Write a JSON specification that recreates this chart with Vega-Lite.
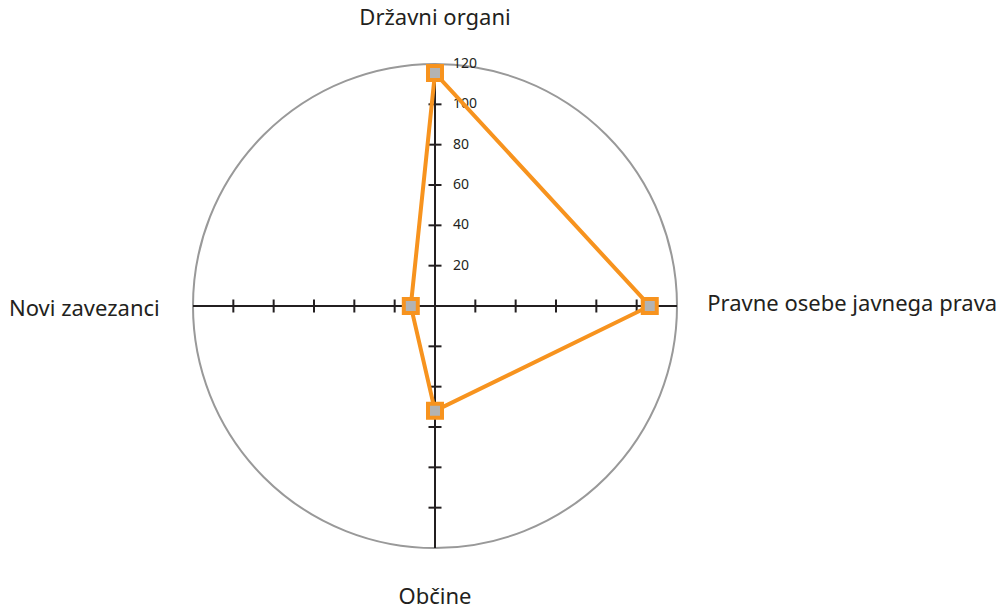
{
  "$schema": "https://vega.github.io/schema/vega-lite/v6.json",
  "width": 484,
  "height": 484,
  "autosize": {"type": "none"},
  "padding": {"left": 193, "top": 64, "right": 329, "bottom": 62},
  "background": "white",
  "config": {"view": {"stroke": null}},
  "datasets": {
    "series": [
      {"kategorija": "Državni organi", "x": 0, "y": 115.5, "red": 1},
      {"kategorija": "Pravne osebe javnega prava", "x": 106.5, "y": 0, "red": 2},
      {"kategorija": "Občine", "x": 0, "y": -52, "red": 3},
      {"kategorija": "Novi zavezanci", "x": -12, "y": 0, "red": 4},
      {"kategorija": "Državni organi", "x": 0, "y": 115.5, "red": 5}
    ],
    "axes": [
      {"x": -120, "y": 0, "x2": 120, "y2": 0},
      {"x": 0, "y": -120, "x2": 0, "y2": 120}
    ],
    "hticks": [
      {"v": -100}, {"v": -80}, {"v": -60}, {"v": -40}, {"v": -20},
      {"v": 20}, {"v": 40}, {"v": 60}, {"v": 80}, {"v": 100}
    ],
    "vticks": [
      {"v": -100}, {"v": -80}, {"v": -60}, {"v": -40}, {"v": -20},
      {"v": 20}, {"v": 40}, {"v": 60}, {"v": 80}, {"v": 100}
    ],
    "ticklabels": [
      {"v": 20, "t": "20"}, {"v": 40, "t": "40"}, {"v": 60, "t": "60"},
      {"v": 80, "t": "80"}, {"v": 100, "t": "100"}, {"v": 120, "t": "120"}
    ],
    "labels": [
      {"t": "Državni organi", "x": 0, "y": 143, "a": "center"},
      {"t": "Pravne osebe javnega prava", "x": 135, "y": 1, "a": "left"},
      {"t": "Občine", "x": 0, "y": -144.5, "a": "center"},
      {"t": "Novi zavezanci", "x": -136.5, "y": -1.5, "a": "right"}
    ],
    "center": [{"x": 0, "y": 0}]
  },
  "layer": [
    {
      "data": {"name": "center"},
      "mark": {"type": "point", "shape": "circle", "filled": false, "size": 234256, "stroke": "#999999", "strokeWidth": 2, "opacity": 1},
      "encoding": {
        "x": {"field": "x", "type": "quantitative", "scale": {"domain": [-120, 120], "nice": false, "zero": false}, "axis": null},
        "y": {"field": "y", "type": "quantitative", "scale": {"domain": [-120, 120], "nice": false, "zero": false}, "axis": null}
      }
    },
    {
      "data": {"name": "axes"},
      "mark": {"type": "rule", "stroke": "#231F20", "strokeWidth": 2},
      "encoding": {
        "x": {"field": "x", "type": "quantitative"},
        "y": {"field": "y", "type": "quantitative"},
        "x2": {"field": "x2"},
        "y2": {"field": "y2"}
      }
    },
    {
      "data": {"name": "hticks"},
      "mark": {"type": "tick", "orient": "vertical", "size": 13, "thickness": 2, "color": "#231F20", "opacity": 1},
      "encoding": {
        "x": {"field": "v", "type": "quantitative"},
        "y": {"datum": 0, "type": "quantitative"}
      }
    },
    {
      "data": {"name": "vticks"},
      "mark": {"type": "tick", "orient": "horizontal", "size": 13, "thickness": 2, "color": "#231F20", "opacity": 1},
      "encoding": {
        "y": {"field": "v", "type": "quantitative"},
        "x": {"datum": 0, "type": "quantitative"}
      }
    },
    {
      "data": {"name": "ticklabels"},
      "mark": {"type": "text", "align": "left", "baseline": "middle", "dx": 18, "font": "Noto Sans", "fontSize": 14, "color": "#231F20"},
      "encoding": {
        "y": {"field": "v", "type": "quantitative"},
        "x": {"datum": 0, "type": "quantitative"},
        "text": {"field": "t"}
      }
    },
    {
      "data": {"name": "series"},
      "mark": {"type": "line", "stroke": "#F7931E", "strokeWidth": 4, "strokeJoin": "miter"},
      "encoding": {
        "x": {"field": "x", "type": "quantitative"},
        "y": {"field": "y", "type": "quantitative"},
        "order": {"field": "red", "type": "quantitative"}
      }
    },
    {
      "data": {"name": "series"},
      "mark": {"type": "point", "shape": "square", "size": 196, "filled": true, "fill": "#B3B3B3", "stroke": "#F7931E", "strokeWidth": 4, "opacity": 1},
      "encoding": {
        "x": {"field": "x", "type": "quantitative"},
        "y": {"field": "y", "type": "quantitative"}
      }
    },
    {
      "data": {"name": "labels"},
      "transform": [{"filter": "datum.a === 'center'"}],
      "mark": {"type": "text", "align": "center", "baseline": "middle", "font": "Noto Sans", "fontSize": 22, "color": "#231F20"},
      "encoding": {
        "x": {"field": "x", "type": "quantitative"},
        "y": {"field": "y", "type": "quantitative"},
        "text": {"field": "t"}
      }
    },
    {
      "data": {"name": "labels"},
      "transform": [{"filter": "datum.a === 'left'"}],
      "mark": {"type": "text", "align": "left", "baseline": "middle", "font": "Noto Sans", "fontSize": 22, "color": "#231F20"},
      "encoding": {
        "x": {"field": "x", "type": "quantitative"},
        "y": {"field": "y", "type": "quantitative"},
        "text": {"field": "t"}
      }
    },
    {
      "data": {"name": "labels"},
      "transform": [{"filter": "datum.a === 'right'"}],
      "mark": {"type": "text", "align": "right", "baseline": "middle", "font": "Noto Sans", "fontSize": 22, "color": "#231F20"},
      "encoding": {
        "x": {"field": "x", "type": "quantitative"},
        "y": {"field": "y", "type": "quantitative"},
        "text": {"field": "t"}
      }
    }
  ]
}
